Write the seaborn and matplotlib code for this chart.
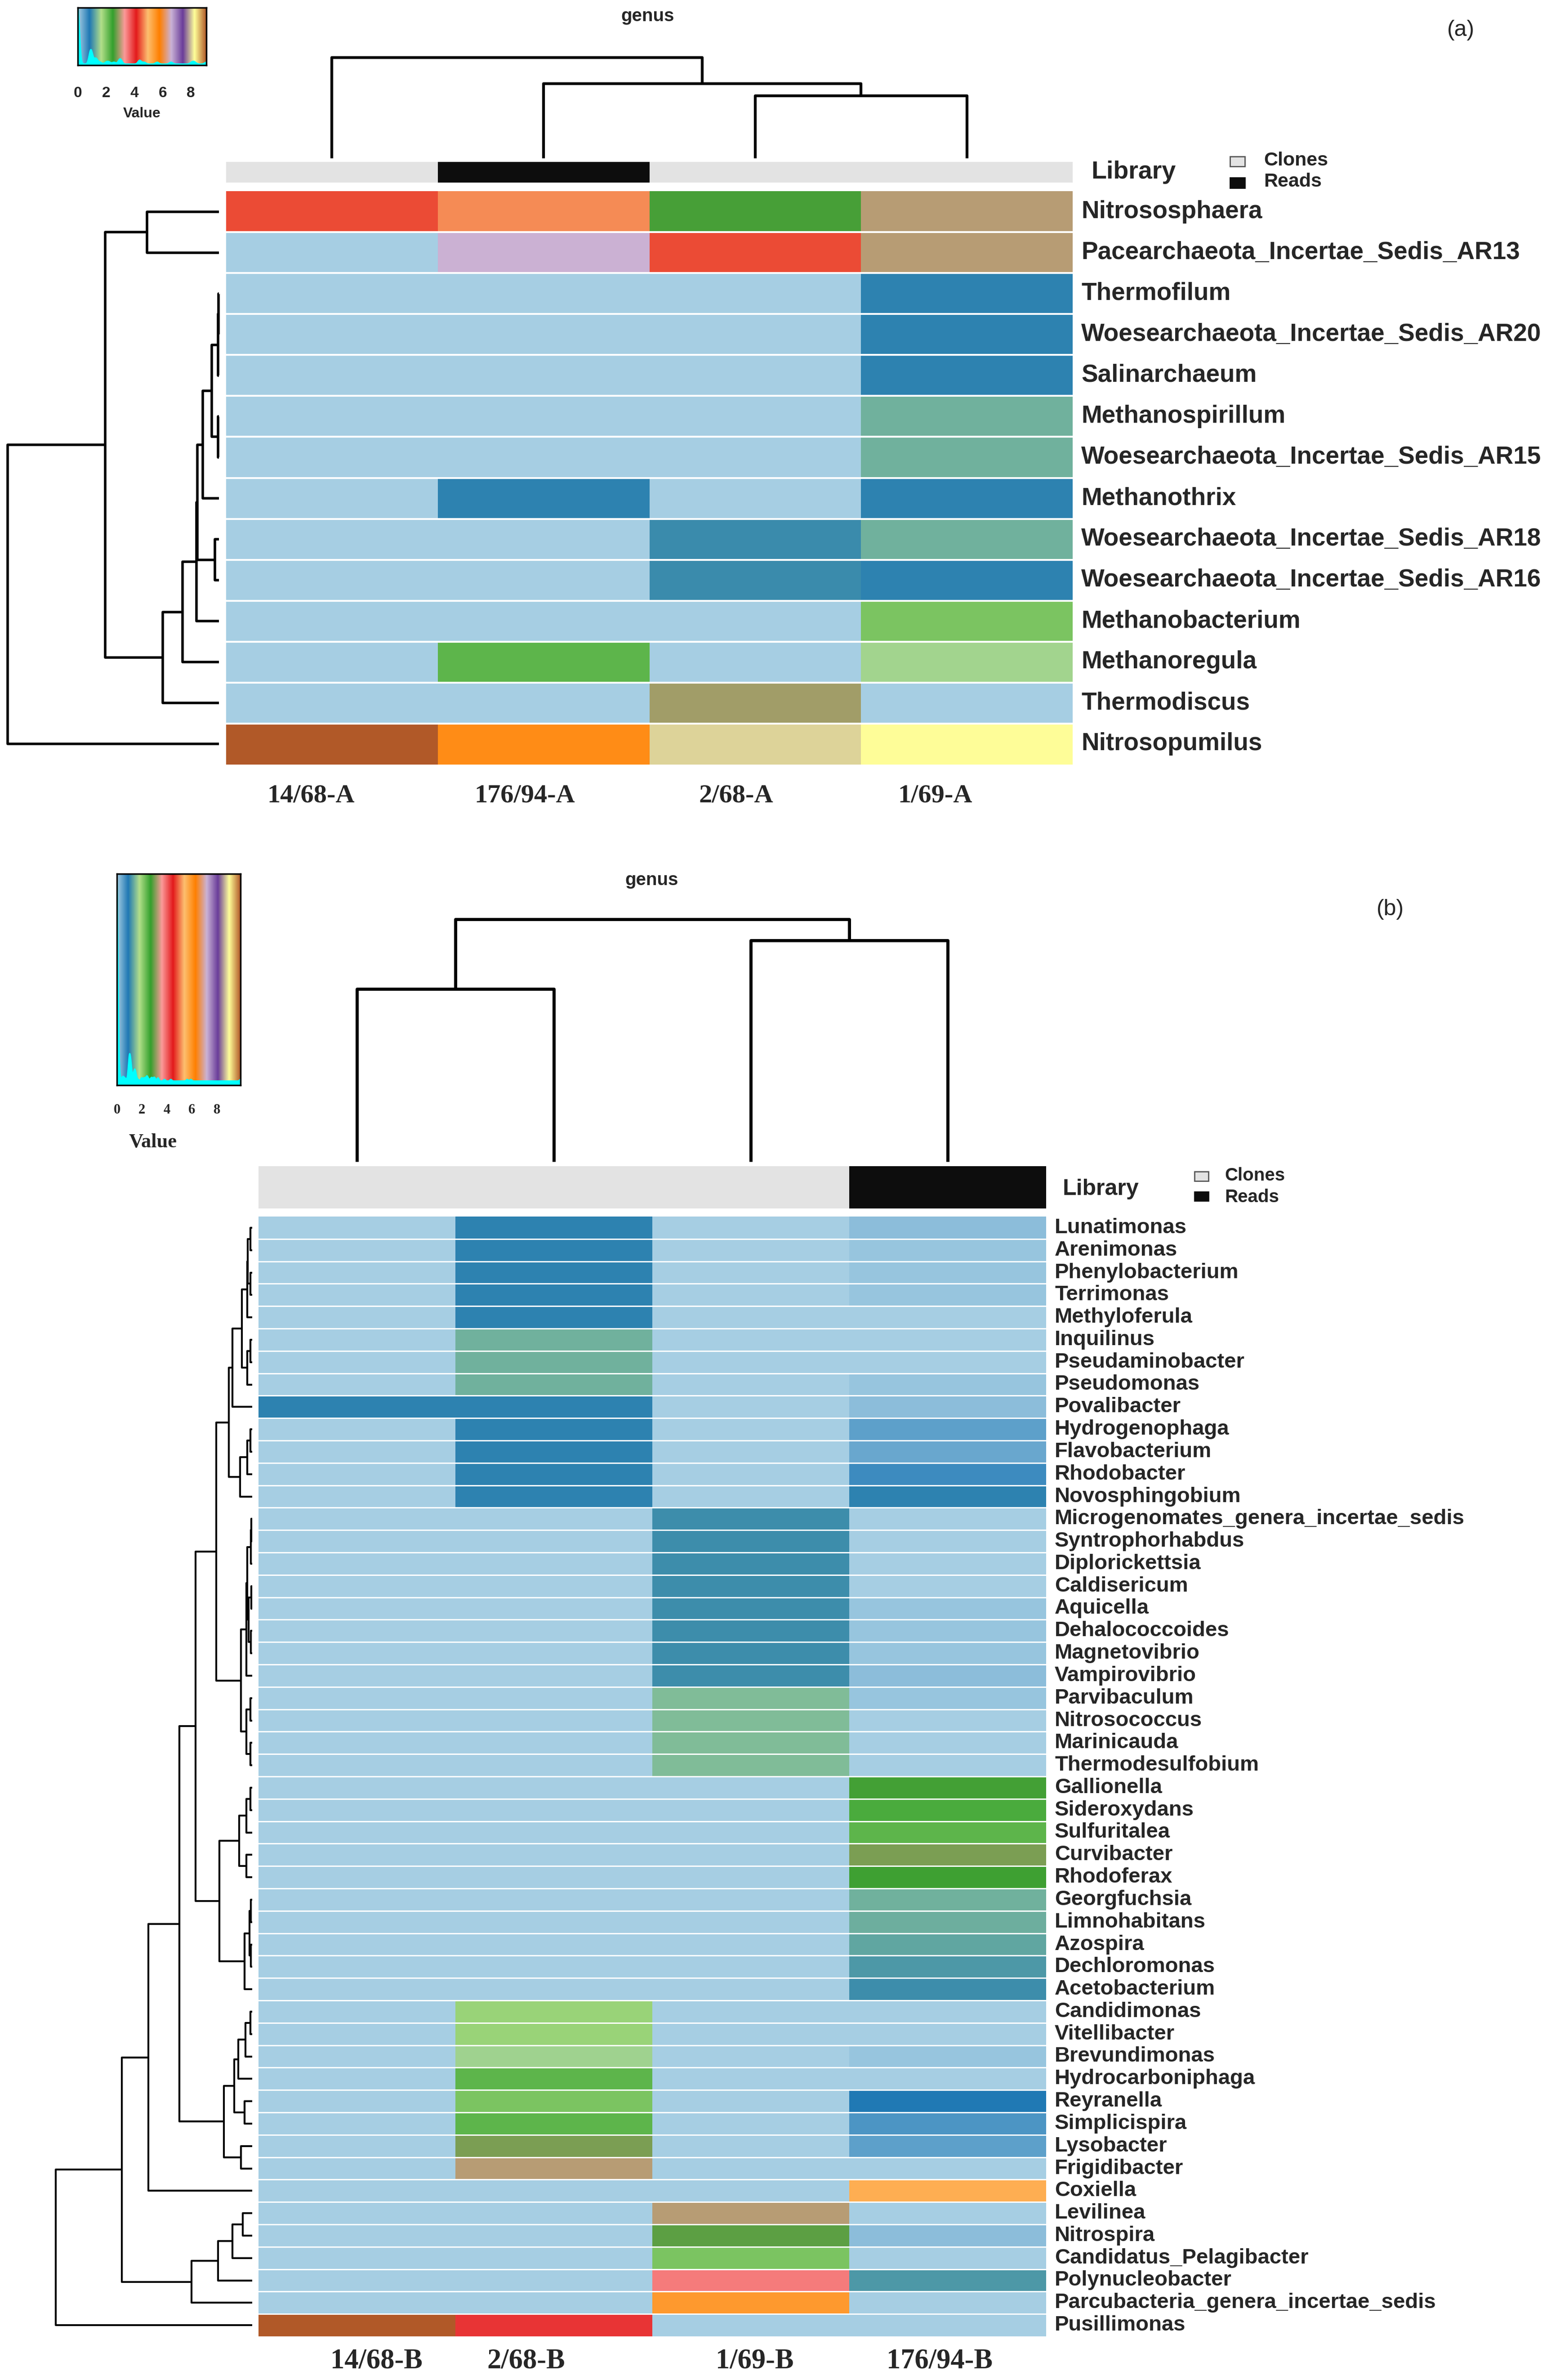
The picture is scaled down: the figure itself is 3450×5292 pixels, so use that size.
import numpy as np
import pandas as pd
import matplotlib
matplotlib.use("Agg")
import matplotlib.pyplot as plt
import seaborn as sns
from matplotlib.colors import LinearSegmentedColormap, ListedColormap
from matplotlib.patches import Rectangle

# ======================= DATA =======================
# ---- panel (a) ----
genera_a = ["Nitrososphaera", "Pacearchaeota_Incertae_Sedis_AR13", "Thermofilum",
            "Woesearchaeota_Incertae_Sedis_AR20", "Salinarchaeum", "Methanospirillum",
            "Woesearchaeota_Incertae_Sedis_AR15", "Methanothrix",
            "Woesearchaeota_Incertae_Sedis_AR18", "Woesearchaeota_Incertae_Sedis_AR16",
            "Methanobacterium", "Methanoregula", "Thermodiscus", "Nitrosopumilus"]
samples_a = ["14/68-A", "176/94-A", "2/68-A", "1/69-A"]
library_a = ["Clones", "Reads", "Clones", "Clones"]
v14_68_A = [4.38, 0, 0, 0, 0, 0, 0, 0, 0, 0, 0, 0, 0, 9.1]
v176_94_A = [4.7, 6.6, 0, 0, 0, 0, 0, 0.91, 0, 0, 0, 2.21, 0, 5.62]
v2_68_A = [2.56, 4.38, 0, 0, 0, 0, 0, 0, 0.99, 0.99, 0, 0, 2.94, 8.08]
v1_69_A = [3.03, 3.03, 0.91, 0.91, 0.91, 1.28, 1.28, 0.91, 1.28, 0.91, 2.02, 1.57, 0, 8.27]
# dendrograms: (child, child, height); ids >= n are earlier merges
row_link_a = [(2, 3, 2), (14, 4, 3), (5, 6, 3), (15, 16, 23), (17, 7, 51), (8, 9, 13),
              (18, 19, 68), (20, 10, 71), (21, 11, 115), (22, 12, 178), (0, 1, 228),
              (24, 23, 360), (25, 13, 668)]
col_link_a = [(2, 3, 41), (1, 4, 49), (0, 5, 66)]
vmax_a = 9.1

# ---- panel (b) ----
genera_b = ["Lunatimonas", "Arenimonas", "Phenylobacterium", "Terrimonas", "Methyloferula",
            "Inquilinus", "Pseudaminobacter", "Pseudomonas", "Povalibacter", "Hydrogenophaga",
            "Flavobacterium", "Rhodobacter", "Novosphingobium",
            "Microgenomates_genera_incertae_sedis", "Syntrophorhabdus", "Diplorickettsia",
            "Caldisericum", "Aquicella", "Dehalococcoides", "Magnetovibrio", "Vampirovibrio",
            "Parvibaculum", "Nitrosococcus", "Marinicauda", "Thermodesulfobium", "Gallionella",
            "Sideroxydans", "Sulfuritalea", "Curvibacter", "Rhodoferax", "Georgfuchsia",
            "Limnohabitans", "Azospira", "Dechloromonas", "Acetobacterium", "Candidimonas",
            "Vitellibacter", "Brevundimonas", "Hydrocarboniphaga", "Reyranella", "Simplicispira",
            "Lysobacter", "Frigidibacter", "Coxiella", "Levilinea", "Nitrospira",
            "Candidatus_Pelagibacter", "Polynucleobacter", "Parcubacteria_genera_incertae_sedis",
            "Pusillimonas"]
samples_b = ["14/68-B", "2/68-B", "1/69-B", "176/94-B"]
library_b = ["Clones", "Clones", "Clones", "Reads"]
v14_68_B = [0, 0, 0, 0, 0, 0, 0, 0, 0.99, 0,
            0, 0, 0, 0, 0, 0, 0, 0, 0, 0,
            0, 0, 0, 0, 0, 0, 0, 0, 0, 0,
            0, 0, 0, 0, 0, 0, 0, 0, 0, 0,
            0, 0, 0, 0, 0, 0, 0, 0, 0, 9.9]
v2_68_B = [0.99, 0.99, 0.99, 0.99, 0.99, 1.4, 1.4, 1.4, 0.99, 0.99,
           0.99, 0.99, 0.99, 0, 0, 0, 0, 0, 0, 0,
           0, 0, 0, 0, 0, 0, 0, 0, 0, 0,
           0, 0, 0, 0, 0, 1.99, 1.99, 1.7, 2.4, 2.2,
           2.4, 3.02, 3.29, 0, 0, 0, 0, 0, 0, 4.32]
v1_69_B = [0, 0, 0, 0, 0, 0, 0, 0, 0, 0,
           0, 0, 0, 1.1, 1.1, 1.1, 1.1, 1.1, 1.1, 1.1,
           1.1, 1.5, 1.5, 1.5, 1.5, 0, 0, 0, 0, 0,
           0, 0, 0, 0, 0, 0, 0, 0, 0, 0,
           0, 0, 0, 0, 3.29, 2.9, 2.2, 3.81, 5.92, 0]
v176_94_B = [0.19, 0.1, 0.1, 0.1, 0, 0, 0, 0.1, 0.19, 0.5,
             0.41, 0.71, 0.99, 0, 0, 0, 0, 0.1, 0.1, 0.1,
             0.19, 0.1, 0, 0, 0, 2.77, 2.54, 2.4, 3.02, 2.75,
             1.4, 1.38, 1.3, 1.19, 1.09, 0, 0, 0.1, 0, 0.9,
             0.61, 0.5, 0, 5.63, 0, 0.19, 0, 1.18, 0, 0]
row_link_b = [(0, 1, 10), (2, 3, 10), (50, 51, 25), (52, 4, 30), (5, 6, 10), (54, 7, 30),
              (53, 55, 60), (56, 8, 115), (9, 10, 10), (58, 11, 30), (59, 12, 70),
              (57, 60, 135), (13, 14, 5), (62, 15, 8), (16, 17, 5), (18, 19, 8),
              (64, 65, 20), (63, 66, 30), (67, 20, 35), (21, 22, 10), (23, 24, 10),
              (69, 70, 35), (68, 71, 65), (61, 72, 210), (25, 26, 10), (74, 27, 35),
              (28, 29, 35), (75, 76, 75), (30, 31, 8), (32, 33, 8), (78, 79, 15),
              (80, 34, 45), (77, 81, 190), (73, 82, 330), (35, 36, 10), (84, 37, 40),
              (85, 38, 80), (39, 40, 45), (86, 87, 105), (41, 42, 65), (88, 89, 165),
              (83, 90, 425), (91, 43, 605), (44, 45, 55), (93, 46, 115), (94, 47, 200),
              (95, 48, 355), (92, 96, 760), (97, 49, 1145)]
col_link_b = [(0, 1, 114), (2, 3, 146), (4, 5, 160)]
vmax_b = 9.9

# ======================= STYLE / LAYOUT =======================
W, H = 3450, 5292
DPI = 100
sns.set_style("white")
plt.rcParams['font.family'] = ['Liberation Sans', 'DejaVu Sans']
SANS = ['Liberation Sans', 'DejaVu Sans']
SERIF = ['Liberation Serif', 'DejaVu Serif']

cmap = LinearSegmentedColormap.from_list("paired_grad", sns.color_palette("Paired", 12), N=512)
lib_cmap = ListedColormap(["#E3E3E3", "#0D0D0D"])
LIB_CODES = {"Clones": 0, "Reads": 1}

fig = plt.figure(figsize=(W / DPI, H / DPI), dpi=DPI)


def add_ax(x0, y0, x1, y1):
    return fig.add_axes([x0 / W, 1 - y1 / H, (x1 - x0) / W, (y1 - y0) / H])


def ftext(x, y, s, **kw):
    fig.text(x / W, 1 - y / H, s, **kw)


def dendro_segments(link, n):
    pos = {i: i + 0.5 for i in range(n)}
    hgt = {i: 0.0 for i in range(n)}
    segs = []
    for k, (a, b, h) in enumerate(link):
        segs.append(([pos[a], pos[a], pos[b], pos[b]], [hgt[a], h, h, hgt[b]]))
        pos[n + k] = (pos[a] + pos[b]) / 2
        hgt[n + k] = h
    return segs


def draw_row_dendro(rect, link, n, lw):
    ax = add_ax(*rect)
    for p, h in dendro_segments(link, n):
        ax.plot(h, p, color="black", lw=lw, clip_on=False, solid_capstyle="butt")
    ax.set_ylim(n, 0)
    ax.set_xlim(link[-1][2], 0)
    ax.axis("off")


def draw_col_dendro(rect, link, n, lw):
    ax = add_ax(*rect)
    for p, h in dendro_segments(link, n):
        ax.plot(p, h, color="black", lw=lw, clip_on=False, solid_capstyle="butt")
    ax.set_xlim(0, n)
    ax.set_ylim(0, link[-1][2])
    ax.axis("off")


def draw_key(rect, vals, vmax, bw, tick_y, tick_fs, tick_family, value_xy, value_fs,
             value_family, tick_len):
    ax = add_ax(*rect)
    grad = np.linspace(0, vmax, 512)[None, :]
    ax.imshow(grad, aspect="auto", cmap=cmap, vmin=0, vmax=vmax,
              extent=[0, vmax, 0, 1], origin="lower")
    xs = np.linspace(0, vmax, 600)
    v = np.asarray(vals, dtype=float)[:, None]
    d = np.exp(-0.5 * ((xs[None, :] - v) / bw) ** 2).sum(0)
    d = d / d.max() * 0.98 + 0.02
    ax.fill_between(xs, 0, d, color="cyan", lw=0)
    ax.plot(xs, d, color="cyan", lw=2)
    ax.set_xlim(0, vmax)
    ax.set_ylim(0, 1)
    ax.set_yticks([])
    ax.set_xticks([0, 2, 4, 6, 8])
    ax.tick_params(axis="x", direction="out", length=tick_len, width=2.5, labelbottom=False)
    for s in ax.spines.values():
        s.set_visible(True)
        s.set_linewidth(2.5)
        s.set_color("black")
    y0, y1 = rect[1], rect[3]
    tr = ax.get_xaxis_transform()
    for t in [0, 2, 4, 6, 8]:
        ax.text(t, (y1 - tick_y) / (y1 - y0), str(t), transform=tr, ha="center", va="center",
                fontsize=tick_fs, fontweight="bold", family=tick_family, clip_on=False)
    ftext(value_xy[0], value_xy[1], "Value", ha="center", va="center", fontsize=value_fs,
          fontweight="bold", family=value_family)


def draw_heatmap(rect, df, vmax, label_fs, sep_lw, samples, col_offsets, col_label_y,
                 col_fs):
    ax = add_ax(*rect)
    sns.heatmap(df, cmap=cmap, vmin=0, vmax=vmax, cbar=False, ax=ax,
                xticklabels=False, yticklabels=list(df.index))
    n = df.shape[0]
    for i in range(1, n):
        ax.axhline(i, color="white", lw=sep_lw)
    ax.yaxis.tick_right()
    ax.tick_params(axis="y", length=0, pad=13.7, labelright=True, labelleft=False)
    for lab in ax.get_yticklabels():
        lab.set_rotation(0)
        lab.set_fontsize(label_fs)
        lab.set_fontweight("bold")
        lab.set_family(SANS)
        lab.set_va("center")
    row_h = (rect[3] - rect[1]) / n
    yd = n + (col_label_y - rect[3]) / row_h
    for j, s in enumerate(samples):
        ax.text(j + 0.5 + col_offsets[j], yd, s, ha="center", va="center", fontsize=col_fs,
                fontweight="bold", family=SERIF, clip_on=False)
    return ax


def draw_library(rect, lib):
    ax = add_ax(*rect)
    sns.heatmap(pd.DataFrame([[LIB_CODES[x] for x in lib]]), cmap=lib_cmap, vmin=0, vmax=1,
                cbar=False, ax=ax, xticklabels=False, yticklabels=False)
    return ax


def draw_lib_legend(lib_x, lib_y, lib_fs, sq, c_y, r_y, txt_x, c_ty, r_ty, fs):
    ftext(lib_x, lib_y, "Library", ha="left", va="center", fontsize=lib_fs, fontweight="bold")
    (sx0, sx1, cy0, cy1, ry0, ry1) = (sq[0], sq[1], c_y[0], c_y[1], r_y[0], r_y[1])
    fig.add_artist(Rectangle((sx0 / W, 1 - cy1 / H), (sx1 - sx0) / W, (cy1 - cy0) / H,
                             transform=fig.transFigure, facecolor="#E3E3E3",
                             edgecolor="#555555", lw=2))
    fig.add_artist(Rectangle((sx0 / W, 1 - ry1 / H), (sx1 - sx0) / W, (ry1 - ry0) / H,
                             transform=fig.transFigure, facecolor="#0D0D0D",
                             edgecolor="#0D0D0D", lw=2))
    ftext(txt_x, c_ty, "Clones", ha="left", va="center", fontsize=fs, fontweight="bold")
    ftext(txt_x, r_ty, "Reads", ha="left", va="center", fontsize=fs, fontweight="bold")


# ======================= PANEL (a) =======================
df_a = pd.DataFrame({samples_a[0]: v14_68_A, samples_a[1]: v176_94_A,
                     samples_a[2]: v2_68_A, samples_a[3]: v1_69_A}, index=genera_a)
draw_heatmap((503, 425, 2386, 1700), df_a, vmax_a, 39.5, 3.0, samples_a,
             [-0.10, -0.09, -0.09, -0.15], 1769, 42)
draw_library((503, 360, 2386, 406), library_a)
draw_col_dendro((503, 128, 2386, 352), col_link_a, 4, 4.5)
draw_row_dendro((17, 425, 487, 1700), row_link_a, len(genera_a), 4.0)
draw_key((173, 17, 459, 145), df_a.values.ravel(), vmax_a, 0.12, 208, 24, SANS,
         (316, 253), 23, SANS, 12)
ftext(1441, 36, "genus", ha="center", va="center", fontsize=29, fontweight="bold")
ftext(3249, 67, "(a)", ha="center", va="center", fontsize=36)
draw_lib_legend(2427, 383, 40, (2736, 2769), (348, 370), (395, 418), 2811, 357, 404, 31)

# ======================= PANEL (b) =======================
df_b = pd.DataFrame({samples_b[0]: v14_68_B, samples_b[1]: v2_68_B,
                     samples_b[2]: v1_69_B, samples_b[3]: v176_94_B}, index=genera_b)
draw_heatmap((575, 2705, 2327, 5195), df_b, vmax_b, 34, 2.2, samples_b,
             [0.10, -0.14, 0.02, -0.04], 5250, 45)
draw_library((575, 2593, 2327, 2687), library_b)
draw_col_dendro((575, 2044, 2327, 2583), col_link_b, 4, 5.0)
draw_row_dendro((124, 2705, 561, 5195), row_link_b, len(genera_b), 3.0)
draw_key((260, 1943, 535, 2413), df_b.values.ravel(), vmax_b, 0.08, 2469, 22, SERIF,
         (340, 2540), 32, SERIF, 11)
ftext(1450, 1957, "genus", ha="center", va="center", fontsize=29, fontweight="bold")
ftext(3092, 2022, "(b)", ha="center", va="center", fontsize=36)
draw_lib_legend(2364, 2644, 36, (2657, 2688), (2605, 2626), (2650, 2670), 2724, 2614, 2662, 29)

fig.savefig("out.png", dpi=DPI, facecolor="white")
